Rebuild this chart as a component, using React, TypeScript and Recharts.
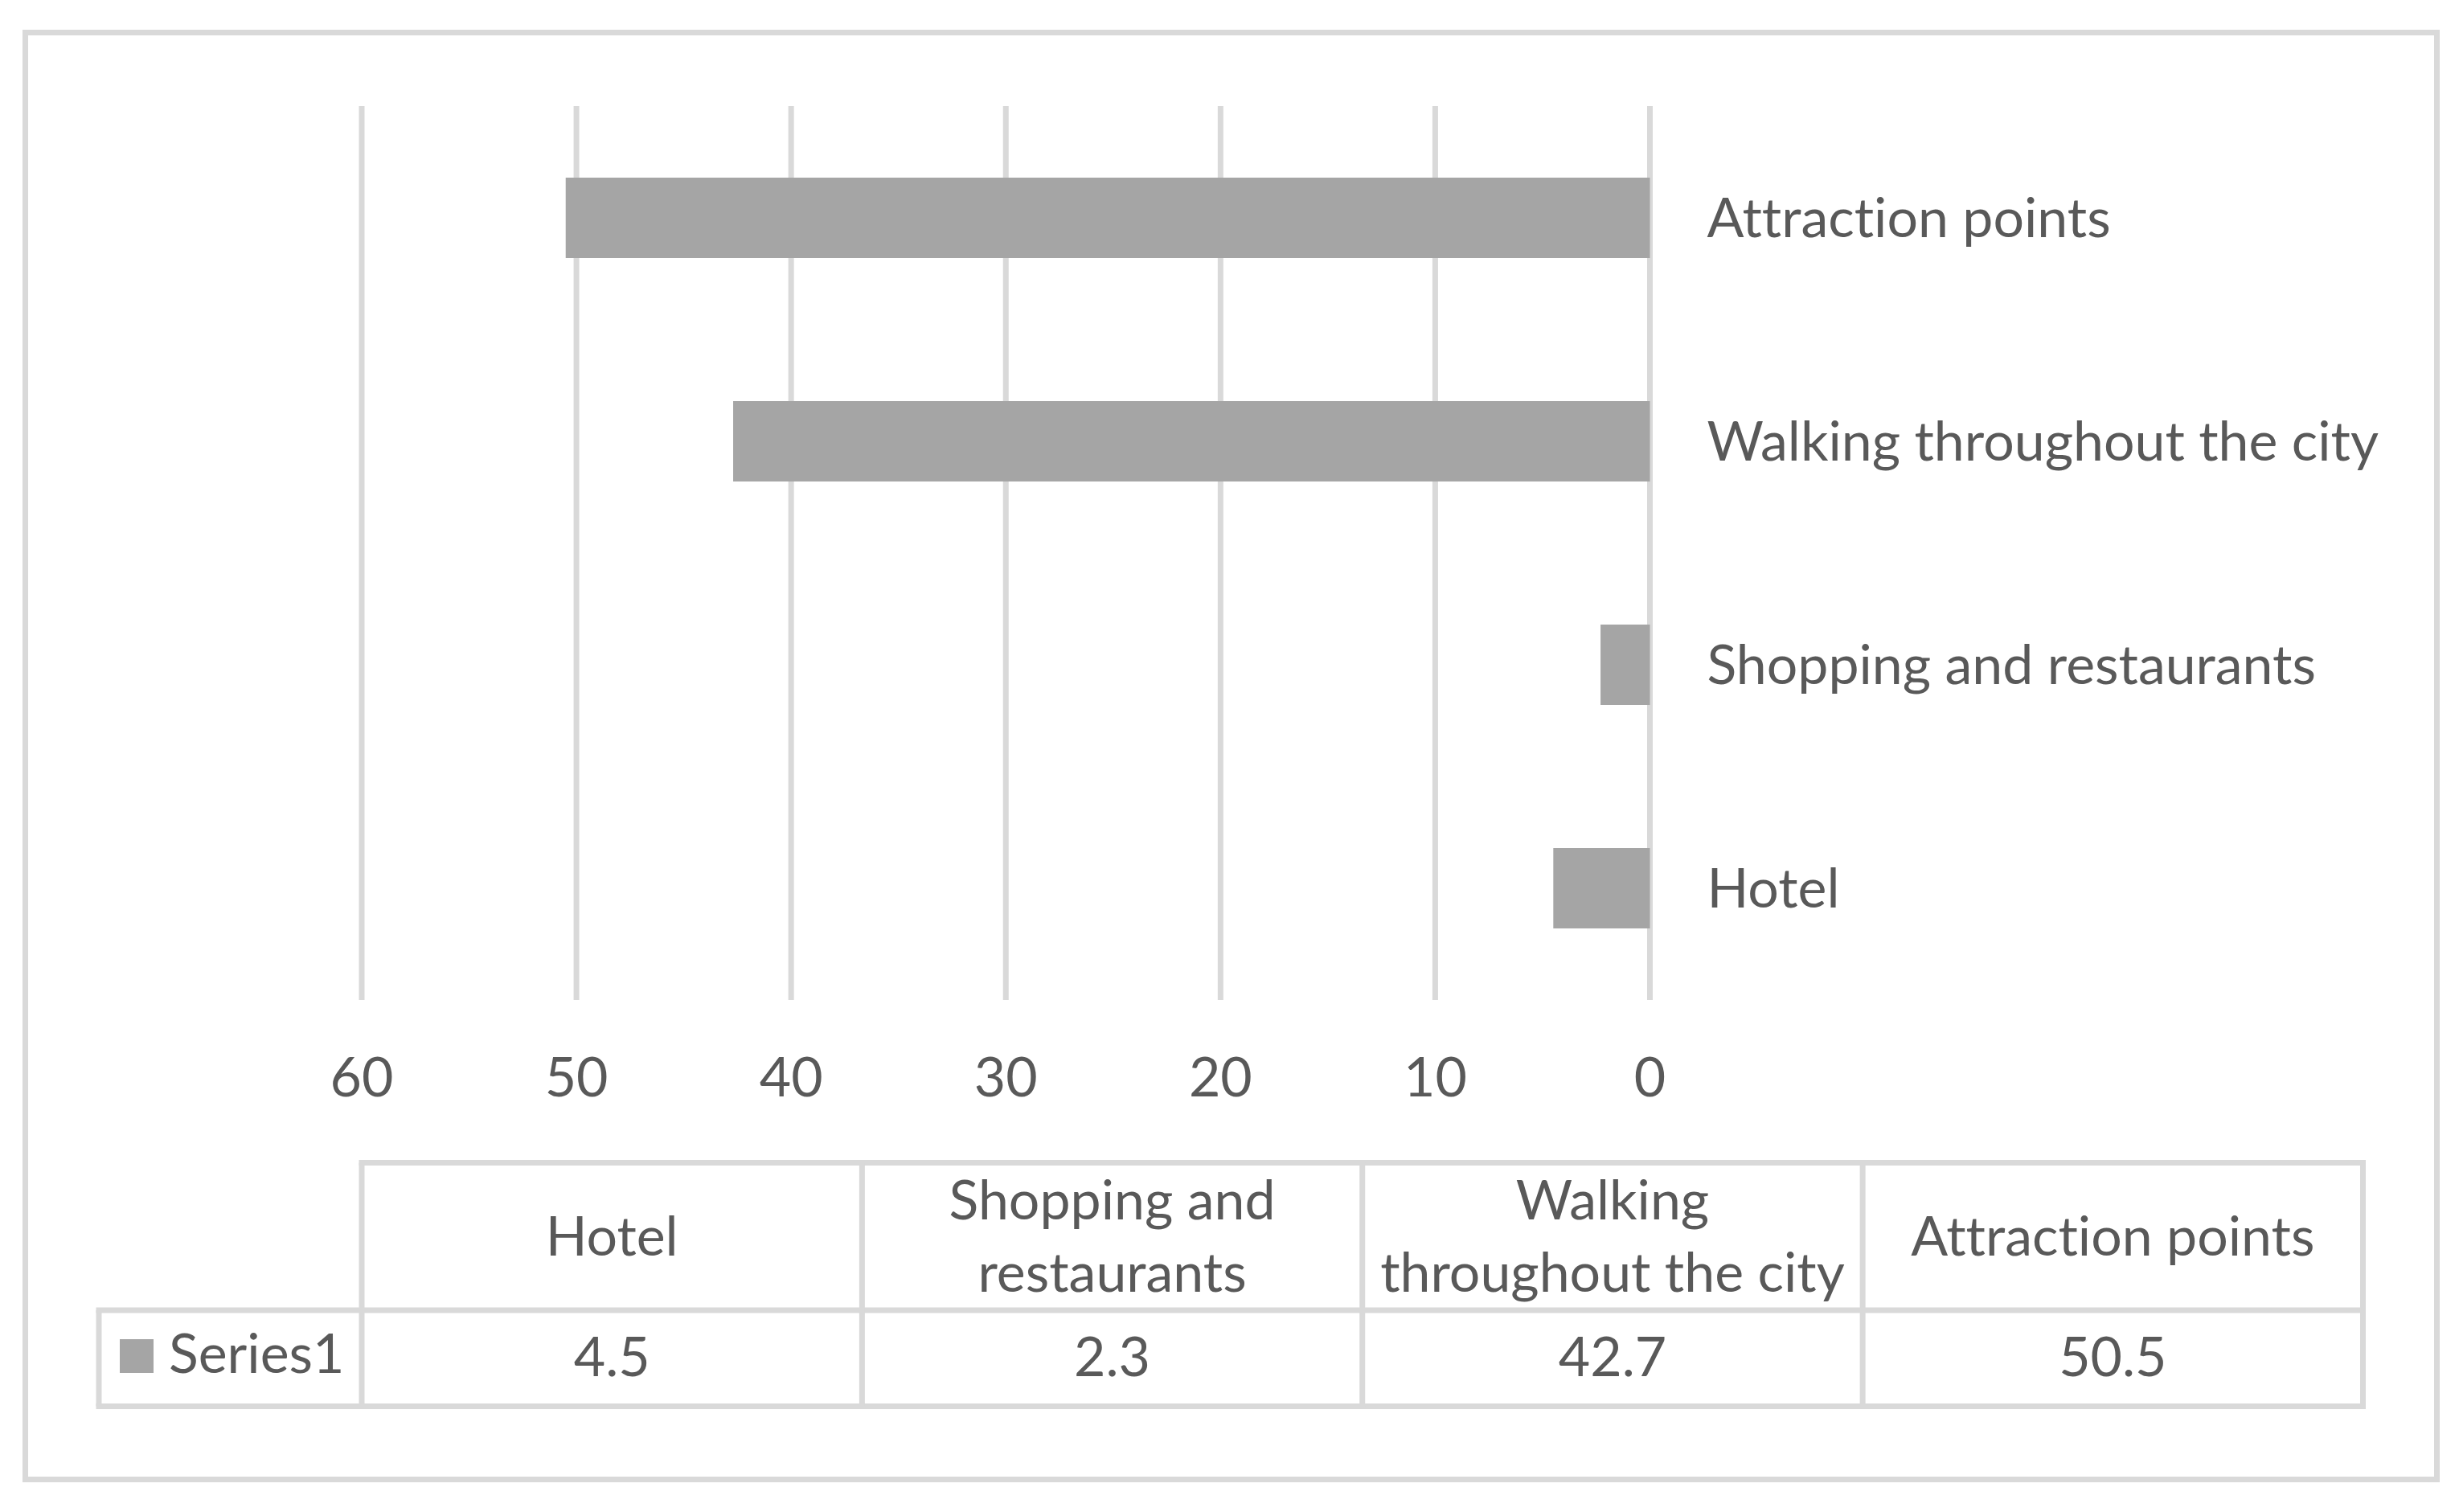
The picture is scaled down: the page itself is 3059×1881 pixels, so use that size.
import React from 'react';
import { BarChart, Bar, XAxis, YAxis, CartesianGrid } from 'recharts';

// categories bottom-to-top as in the data table
const categories = ['Hotel', 'Shopping and restaurants', 'Walking throughout the city', 'Attraction points'];
const series1 = [4.5, 2.3, 42.7, 50.5];
const seriesName = 'Series1';
const xTicks = [0, 10, 20, 30, 40, 50, 60];
// header lines as wrapped in the data table
const headerLines = [
  ['Hotel'],
  ['Shopping and', 'restaurants'],
  ['Walking', 'throughout the city'],
  ['Attraction points'],
];

const W = 3059;
const H = 1881;
const FONT = 'Lato, "Open Sans", sans-serif';
const TEXT = '#595959';
const LINE = '#d9d9d9';
const BAR = '#a5a5a5';
const FS = 68;

const data = categories.map((name, i) => ({ name, value: series1[i] }));

function DataTable() {
  const left = 450;
  const right = 2939.5;
  const legendLeft = 123;
  const top = 1446.5;
  const mid = 1630;
  const bottom = 1749.5;
  const colW = (right - left) / categories.length;
  const sw = 7;

  return (
    <svg
      width={W}
      height={H}
      style={{ position: 'absolute', left: 0, top: 0, pointerEvents: 'none' }}
    >
      {/* outer frame */}
      <rect x={31.5} y={40.5} width={3000} height={1800} fill="none" stroke={LINE} strokeWidth={sw} />

      {/* table grid */}
      <line x1={left - sw / 2} y1={top} x2={right + sw / 2} y2={top} stroke={LINE} strokeWidth={sw} />
      <line x1={legendLeft - sw / 2} y1={mid} x2={right + sw / 2} y2={mid} stroke={LINE} strokeWidth={sw} />
      <line x1={legendLeft - sw / 2} y1={bottom} x2={right + sw / 2} y2={bottom} stroke={LINE} strokeWidth={sw} />
      <line x1={legendLeft} y1={mid} x2={legendLeft} y2={bottom} stroke={LINE} strokeWidth={sw} />
      {categories.map((_, i) => (
        <line key={'v' + i} x1={left + i * colW} y1={top} x2={left + i * colW} y2={bottom} stroke={LINE} strokeWidth={sw} />
      ))}
      <line x1={right} y1={top} x2={right} y2={bottom} stroke={LINE} strokeWidth={sw} />

      {/* header row */}
      {headerLines.map((lines, i) => {
        const cx = left + (i + 0.5) * colW;
        const center = (top + mid) / 2 + 24;
        return lines.map((t, j) => (
          <text
            key={'h' + i + j}
            x={cx}
            y={center + (j - (lines.length - 1) / 2) * 90}
            textAnchor="middle"
            fill={TEXT}
            fontSize={FS}
            fontFamily={FONT}
          >
            {t}
          </text>
        ));
      })}

      {/* series row */}
      <rect x={149} y={1666} width={42} height={42} fill={BAR} />
      <text x={210} y={1708} fill={TEXT} fontSize={FS} fontFamily={FONT}>
        {seriesName}
      </text>
      {series1.map((v, i) => (
        <text
          key={'d' + i}
          x={left + (i + 0.5) * colW}
          y={1712}
          textAnchor="middle"
          fill={TEXT}
          fontSize={FS}
          fontFamily={FONT}
        >
          {v}
        </text>
      ))}
    </svg>
  );
}

export default function App() {
  return (
    <div
      style={{
        position: 'absolute',
        left: 0,
        top: 0,
        width: W,
        height: H,
        background: '#fff',
        fontVariantLigatures: 'none',
      }}
    >
      <BarChart
        width={W}
        height={H}
        data={data}
        layout="vertical"
        margin={{ top: 132, right: 0, bottom: 537, left: 450 }}
      >
        <CartesianGrid vertical horizontal={false} stroke={LINE} strokeWidth={7} />
        <XAxis
          type="number"
          domain={[0, 60]}
          ticks={xTicks}
          reversed
          height={100}
          axisLine={false}
          tickLine={false}
          tickSize={0}
          tickMargin={72}
          tick={{ fill: TEXT, fontSize: FS, fontFamily: FONT }}
        />
        <YAxis
          type="category"
          dataKey="name"
          orientation="right"
          reversed
          width={1006.5}
          axisLine={false}
          tickLine={false}
          tickSize={0}
          tickMargin={71}
          tick={{ fill: TEXT, fontSize: FS, fontFamily: FONT, textAnchor: 'start' }}
          interval={0}
        />
        <Bar dataKey="value" fill={BAR} barSize={100} isAnimationActive={false} />
      </BarChart>
      <DataTable />
    </div>
  );
}
